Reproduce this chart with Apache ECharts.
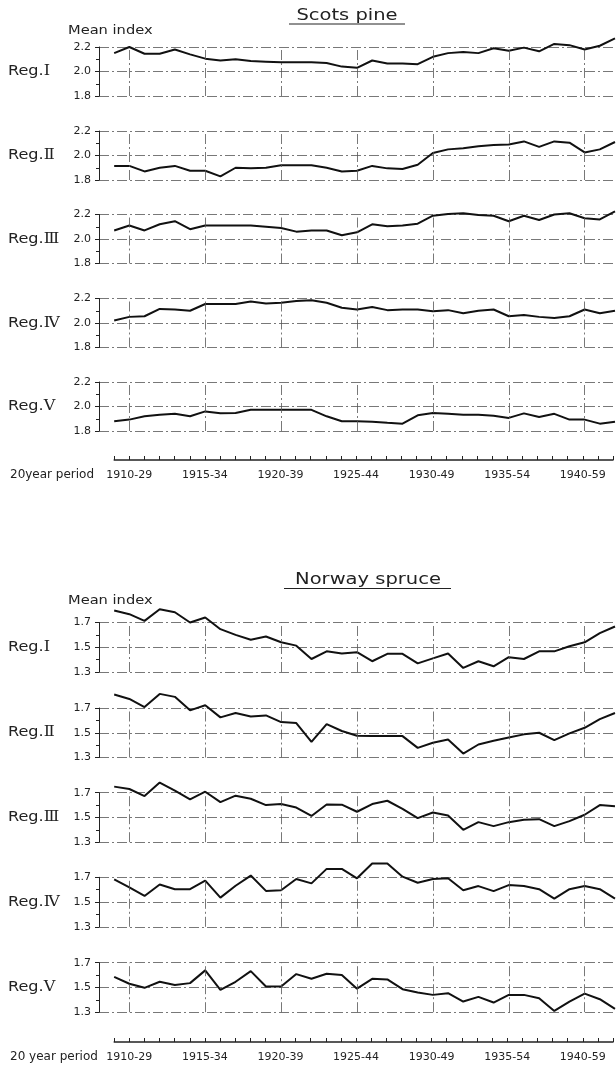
<!DOCTYPE html>
<html>
<head>
<meta charset="utf-8">
<style>html,body{margin:0;padding:0;background:#fff}#c{width:616px;height:1066px}</style>
<script src="https://cdn.jsdelivr.net/npm/echarts@6/dist/echarts.min.js"></script>
</head>
<body>
<div id="c"></div>
<script>
// ---- data ----
const periods = [1909,1910,1911,1912,1913,1914,1915,1916,1917,1918,1919,1920,1921,1922,1923,1924,1925,1926,1927,1928,1929,1930,1931,1932,1933,1934,1935,1936,1937,1938,1939,1940,1941,1942];
const tickYears = [1910,1915,1920,1925,1930,1935,1940];
const tickLabels = ['1910-29','1915-34','1920-39','1925-44','1930-49','1935-54','1940-59'];
const regions = ['Ⅰ','Ⅱ','Ⅲ','Ⅳ','Ⅴ'];

const pineI   = [2.15,2.20,2.145,2.145,2.18,2.14,2.105,2.09,2.10,2.085,2.08,2.075,2.075,2.075,2.07,2.04,2.03,2.09,2.065,2.065,2.06,2.12,2.15,2.16,2.15,2.19,2.17,2.195,2.165,2.225,2.215,2.18,2.21,2.27];
const pineII  = [1.915,1.915,1.87,1.90,1.915,1.875,1.875,1.83,1.90,1.895,1.90,1.92,1.92,1.92,1.90,1.87,1.875,1.915,1.895,1.89,1.925,2.02,2.05,2.06,2.075,2.085,2.09,2.115,2.07,2.115,2.105,2.025,2.05,2.11];
const pineIII = [2.07,2.11,2.07,2.12,2.145,2.08,2.11,2.11,2.11,2.11,2.10,2.09,2.06,2.07,2.07,2.03,2.055,2.12,2.105,2.11,2.125,2.19,2.205,2.21,2.195,2.19,2.145,2.19,2.155,2.20,2.21,2.17,2.16,2.225];
const pineIV  = [2.02,2.05,2.055,2.115,2.11,2.10,2.155,2.155,2.155,2.175,2.16,2.165,2.18,2.185,2.165,2.125,2.11,2.13,2.105,2.11,2.11,2.095,2.105,2.08,2.10,2.11,2.055,2.065,2.05,2.04,2.055,2.11,2.08,2.10];
const pineV   = [1.88,1.893,1.92,1.933,1.94,1.92,1.96,1.944,1.947,1.973,1.973,1.973,1.973,1.973,1.92,1.88,1.88,1.875,1.867,1.86,1.928,1.947,1.94,1.933,1.933,1.925,1.907,1.944,1.915,1.94,1.893,1.893,1.86,1.875];

const spruceI   = [1.797,1.767,1.713,1.807,1.783,1.70,1.74,1.646,1.60,1.56,1.587,1.54,1.513,1.405,1.467,1.45,1.46,1.387,1.447,1.447,1.37,1.41,1.45,1.333,1.387,1.346,1.42,1.405,1.467,1.467,1.508,1.54,1.614,1.668];
const spruceII  = [1.809,1.773,1.708,1.814,1.79,1.681,1.722,1.624,1.659,1.632,1.64,1.586,1.578,1.427,1.569,1.514,1.476,1.473,1.473,1.473,1.378,1.419,1.446,1.332,1.405,1.435,1.462,1.487,1.50,1.44,1.495,1.54,1.61,1.66];
const spruceIII = [1.749,1.73,1.673,1.782,1.716,1.646,1.708,1.624,1.676,1.651,1.60,1.608,1.58,1.512,1.605,1.603,1.546,1.608,1.635,1.57,1.495,1.54,1.516,1.40,1.462,1.43,1.462,1.481,1.486,1.43,1.47,1.522,1.60,1.59];
const spruceIV  = [1.684,1.618,1.549,1.642,1.604,1.604,1.673,1.536,1.632,1.714,1.59,1.595,1.686,1.651,1.768,1.768,1.692,1.812,1.812,1.705,1.656,1.686,1.692,1.596,1.629,1.588,1.637,1.629,1.604,1.527,1.604,1.629,1.604,1.527];
const spruceV   = [1.586,1.53,1.497,1.546,1.52,1.535,1.638,1.48,1.546,1.632,1.508,1.508,1.608,1.57,1.611,1.60,1.49,1.57,1.565,1.486,1.46,1.44,1.454,1.386,1.424,1.378,1.44,1.44,1.413,1.31,1.386,1.45,1.405,1.327];

// ---- layout ----
const FONT = 'DejaVu Sans';
const INK = '#222';
const gridDash = {color:'#555', width:0.8, type:[10,3,2,3]};
const grids = [], xAxes = [], yAxes = [], series = [], graphics = [];

function panel(top, height, min, max, values, reg) {
  const idx = grids.length;
  grids.push({left:99, right:1, top:top, height:height});
  xAxes.push({type:'value', gridIndex:idx, min:1908, max:1942, show:false});
  yAxes.push({
    type:'value', gridIndex:idx, min:min, max:max, interval:0.2,
    axisLine:{show:true, lineStyle:{color:INK, width:1}},
    axisTick:{show:true, length:4, lineStyle:{color:INK, width:1}},
    minorTick:{show:true, splitNumber:2, length:3, lineStyle:{color:INK, width:1}},
    minorSplitLine:{show:false},
    axisLabel:{formatter:v => v.toFixed(1), margin:8, fontSize:11, color:INK, fontFamily:FONT},
    splitLine:{show:true, lineStyle:gridDash}
  });
  series.push({
    type:'line', xAxisIndex:idx, yAxisIndex:idx, symbol:'none', clip:false,
    data: periods.map((p, i) => [p, values[i]]),
    lineStyle:{color:'#111', width:2},
    markLine:{silent:true, symbol:'none', label:{show:false}, lineStyle:gridDash,
      data: tickYears.map(y => ({xAxis:y}))},
    z:3
  });
  graphics.push({type:'text', x:8, y:top + height/2, scaleX:1.15, z:10,
    style:{text:'{a|Reg.}{b|' + reg + '}', verticalAlign:'middle', align:'left',
      rich:{a:{fontSize:14, fontFamily:FONT, fill:INK}, b:{fontSize:14, fontFamily:'DejaVu Serif', fill:INK}}}});
}

function axisStrip(y, name) {
  const idx = grids.length;
  grids.push({left:114.2, right:1, top:y - 1, height:1});
  xAxes.push({
    type:'value', gridIndex:idx, min:1909, max:1942, interval:1, position:'bottom',
    axisLine:{show:true, lineStyle:{color:INK, width:1.5}},
    axisTick:{show:true, inside:true, length:4, lineStyle:{color:INK, width:1}},
    axisLabel:{margin:10, fontSize:11, color:INK, fontFamily:FONT,
      formatter: v => { const i = tickYears.indexOf(v); return i >= 0 ? tickLabels[i] : ''; }},
    splitLine:{show:false}
  });
  yAxes.push({type:'value', gridIndex:idx, min:0, max:1, show:false});
  graphics.push({type:'text', x:10, y:y + 15, z:10,
    style:{text:name, fontSize:12, fontFamily:FONT, fill:INK, align:'left', verticalAlign:'middle'}});
}

function heading(text, cx, cy, x1, x2, uy, meanY) {
  graphics.push({type:'text', x:cx, y:cy, scaleX:1.3, z:10,
    style:{text:text, fontSize:15, fontFamily:FONT, fill:INK, align:'center', verticalAlign:'middle'}});
  graphics.push({type:'line', z:10, shape:{x1:x1, y1:uy, x2:x2, y2:uy}, style:{stroke:INK, lineWidth:1}});
  graphics.push({type:'text', x:68, y:meanY, scaleX:1.22, z:10,
    style:{text:'Mean index', fontSize:12, fontFamily:FONT, fill:INK, align:'left', verticalAlign:'middle'}});
}

// Scots pine
heading('Scots pine', 347, 16, 289, 405, 24, 31);
const pineTops = [47, 131, 214.5, 298.5, 382];
[pineI, pineII, pineIII, pineIV, pineV].forEach((vals, i) => panel(pineTops[i], 49, 1.8, 2.2, vals, regions[i]));
axisStrip(460, '20year period');

// Norway spruce
heading('Norway spruce', 368, 580, 284, 451, 588.5, 600.7);
const spruceTops = [622.5, 708, 792.7, 877.3, 962.7];
[spruceI, spruceII, spruceIII, spruceIV, spruceV].forEach((vals, i) => panel(spruceTops[i], 49.5, 1.3, 1.7, vals, regions[i]));
axisStrip(1042, '20 year period');

const chart = echarts.init(document.getElementById('c'));
chart.setOption({
  animation:false,
  backgroundColor:'#fff',
  grid:grids, xAxis:xAxes, yAxis:yAxes, series:series,
  graphic:graphics
});
</script>
</body>
</html>
